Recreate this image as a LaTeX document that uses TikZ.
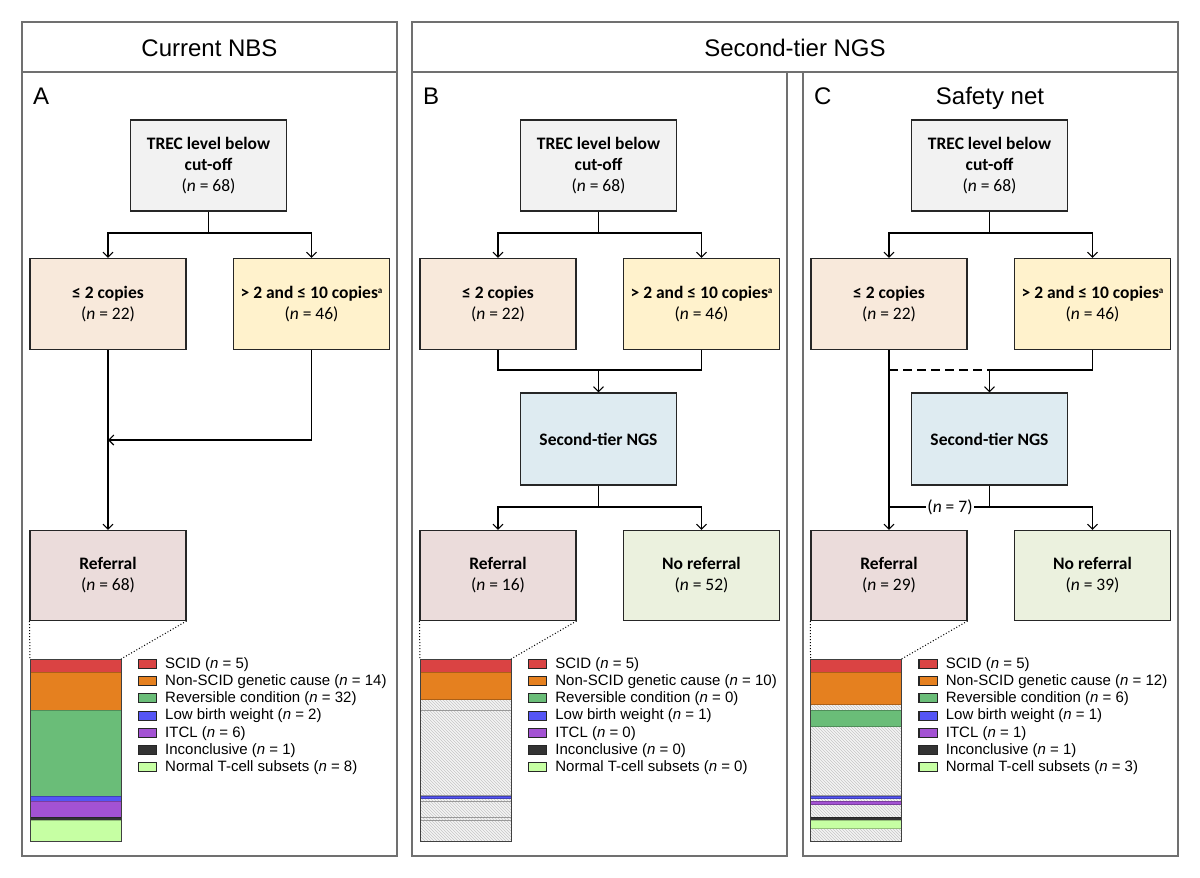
\documentclass[tikz,border=0pt]{standalone}
\usepackage{fontspec}
\setmainfont{Liberation Sans}
\newfontfamily\calfont{Carlito}
\usetikzlibrary{arrows.meta,patterns}
\definecolor{trecc}{HTML}{F2F2F2}
\definecolor{lowc}{HTML}{F8E9DB}
\definecolor{highc}{HTML}{FFF2CC}
\definecolor{ngsc}{HTML}{DEEBF1}
\definecolor{refc}{HTML}{EBDCDB}
\definecolor{norefc}{HTML}{EBF1DE}
\definecolor{scid}{HTML}{DA4343}
\definecolor{nonscid}{HTML}{E5801F}
\definecolor{rev}{HTML}{6ABD78}
\definecolor{lbw}{HTML}{5555F5}
\definecolor{itcl}{HTML}{A352D3}
\definecolor{inc}{HTML}{333333}
\definecolor{norm}{HTML}{C6FFA3}
\definecolor{panelc}{HTML}{707070}
\definecolor{hatchbg}{HTML}{F4F4F4}

\newcommand\mybar[2]{%
  \xdef\cury{659}%
  \foreach \tot/\rf/\col in {#2}{%
    \pgfmathsetmacro\ya{\cury}%
    \pgfmathsetmacro\yb{\cury+\rf*2.684}%
    \pgfmathsetmacro\yc{\cury+\tot*2.684}%
    \ifnum\tot>\rf
      \fill[hatchbg] (#1,\yb) rectangle ({#1+91},\yc);
      \fill[pattern=north west lines, pattern color=gray!45] (#1,\yb) rectangle ({#1+91},\yc);
      \draw[gray!80, line width=0.8pt] (#1,\yb) rectangle ({#1+91},\yc);
    \fi
    \ifnum\rf>0
      \filldraw[fill=\col, draw=\col!75!black, line width=0.6pt] (#1,\ya) rectangle ({#1+91},\yb);
    \fi
    \xdef\cury{\yc}%
  }%
  \draw[black!75, line width=1pt] (#1,659) rectangle ({#1+91},\cury);
}

\newcommand\mylegend[9]{%
  \foreach \i/\col/\lab/\n in {0/scid/SCID/#3, 1/nonscid/Non-SCID genetic cause/#4,
      2/rev/Reversible condition/#5, 3/lbw/Low birth weight/#6, 4/itcl/ITCL/#7,
      5/inc/Inconclusive/#8, 6/norm/Normal T-cell subsets/#9}{%
    \node[legsq, fill=\col] (#1sq\i) at ({#2+9.2},{664+\i*17.2}) {};
    \node[legtxt] (#1lt\i) at ({#2+26.7},{664.5+\i*17.2}) {\lab{} (\textit{n} = \n)};
  }%
}

\begin{document}
\begin{tikzpicture}[x=1pt,y=-1pt,
  panel/.style={draw=panelc, line width=1.2pt},
  hdr/.style={font=\fontsize{24}{28}\selectfont, inner sep=0pt},
  box/.style={draw=black!85, line width=1.1pt, minimum width=156pt, align=center,
     font=\calfont\fontsize{17.5}{21}\selectfont, inner sep=2pt},
  arr/.style={-{Straight Barb[length=5pt,width=10pt]}, line width=1.1pt},
  conn/.style={line width=1.1pt},
  legsq/.style={draw=black!85, line width=1.1pt, minimum width=18.4pt, minimum height=9pt, inner sep=0pt},
  legtxt/.style={anchor=west, inner sep=0pt, font=\fontsize{15}{17}\selectfont},
  dots/.style={dotted, line width=1pt}
]
\useasboundingbox (0,0) rectangle (1200,878);
\fill[white] (0,0) rectangle (1200,878);

% panels
\draw[panel] (22,22) rectangle (397,856);
\draw[panel] (22,72) -- (397,72);
\draw[panel] (412,22) rectangle (1178,72);
\draw[panel] (412,72) rectangle (787,856);
\draw[panel] (803,72) rectangle (1178,856);

\node[hdr, anchor=base] (hA) at (209.5,56) {Current NBS};
\node[hdr, anchor=base] (hBC) at (795,56) {Second-tier NGS};
\node[hdr, anchor=base west] (lbA) at (33,104.5) {A};
\node[hdr, anchor=base west] (lbB) at (423,104.5) {B};
\node[hdr, anchor=base west] (lbC) at (814,104.5) {C};
\node[hdr, anchor=base] (sn) at (990,104.5) {Safety net};

% ---------------- Panel A ----------------
\node[box, fill=trecc, minimum height=91pt] (tA) at (208.5,165.5) {\textbf{TREC level below}\\\textbf{cut-off}\\(\textit{n} = 68)};
\node[box, fill=lowc, minimum height=91pt] (lA) at (108,304) {\textbf{≤ 2 copies}\\(\textit{n} = 22)};
\node[box, fill=highc, minimum height=91pt] (uA) at (311.5,304) {\textbf{> 2 and ≤ 10 copies{\fontsize{9}{9}\selectfont\raisebox{5pt}{a}}}\\(\textit{n} = 46)};
\node[box, fill=refc, minimum height=90pt] (rA) at (108,575.5) {\textbf{Referral}\\(\textit{n} = 68)};

\coordinate (jA) at (208.5,233);
\coordinate (mA) at (108,440);
\draw[conn] (tA.south) -- (jA);
\draw[arr] (jA) -| (lA.north);
\draw[arr] (jA) -| (uA.north);
\draw[arr] (lA.south) -- (rA.north);
\draw[arr] (uA.south) |- (mA);

\mybar{30}{5/5/scid, 14/14/nonscid, 32/32/rev, 2/2/lbw, 6/6/itcl, 1/1/inc, 8/8/norm}
\coordinate (bAl) at (30,659);
\coordinate (bAr) at (121,659);
\draw[dots] (rA.south west) -- (bAl);
\draw[dots] (rA.south east) -- (bAr);
\mylegend{LA}{138.3}{5}{14}{32}{2}{6}{1}{8}

% ---------------- Panel B ----------------
\node[box, fill=trecc, minimum height=91pt] (tB) at (598.5,165.5) {\textbf{TREC level below}\\\textbf{cut-off}\\(\textit{n} = 68)};
\node[box, fill=lowc, minimum height=91pt] (lB) at (498,304) {\textbf{≤ 2 copies}\\(\textit{n} = 22)};
\node[box, fill=highc, minimum height=91pt] (uB) at (701.5,304) {\textbf{> 2 and ≤ 10 copies{\fontsize{9}{9}\selectfont\raisebox{5pt}{a}}}\\(\textit{n} = 46)};
\node[box, fill=ngsc, minimum height=92pt] (nB) at (598.5,439) {\textbf{Second-tier NGS}};
\node[box, fill=refc, minimum height=90pt] (rB) at (498,575.5) {\textbf{Referral}\\(\textit{n} = 16)};
\node[box, fill=norefc, minimum height=90pt] (qB) at (701.5,575.5) {\textbf{No referral}\\(\textit{n} = 52)};

\coordinate (jB) at (598.5,233);
\draw[conn] (tB.south) -- (jB);
\draw[arr] (jB) -| (lB.north);
\draw[arr] (jB) -| (uB.north);
\coordinate (kB) at (598.5,370);
\draw[conn] (lB.south) |- (kB);
\draw[conn] (uB.south) |- (kB);
\draw[arr] (kB) -- (nB.north);
\coordinate (oB) at (598.5,507);
\draw[conn] (nB.south) -- (oB);
\draw[arr] (oB) -| (rB.north);
\draw[arr] (oB) -| (qB.north);

\mybar{420}{5/5/scid, 14/10/nonscid, 32/0/rev, 2/1/lbw, 6/0/itcl, 1/0/inc, 8/0/norm}
\coordinate (bBl) at (420,659);
\coordinate (bBr) at (511,659);
\draw[dots] (rB.south west) -- (bBl);
\draw[dots] (rB.south east) -- (bBr);
\mylegend{LB}{528.5}{5}{10}{0}{1}{0}{0}{0}

% ---------------- Panel C ----------------
\node[box, fill=trecc, minimum height=91pt] (tC) at (989.5,165.5) {\textbf{TREC level below}\\\textbf{cut-off}\\(\textit{n} = 68)};
\node[box, fill=lowc, minimum height=91pt] (lC) at (889,304) {\textbf{≤ 2 copies}\\(\textit{n} = 22)};
\node[box, fill=highc, minimum height=91pt] (uC) at (1092.5,304) {\textbf{> 2 and ≤ 10 copies{\fontsize{9}{9}\selectfont\raisebox{5pt}{a}}}\\(\textit{n} = 46)};
\node[box, fill=ngsc, minimum height=92pt] (nC) at (989.5,439) {\textbf{Second-tier NGS}};
\node[box, fill=refc, minimum height=90pt] (rC) at (889,575.5) {\textbf{Referral}\\(\textit{n} = 29)};
\node[box, fill=norefc, minimum height=90pt] (qC) at (1092.5,575.5) {\textbf{No referral}\\(\textit{n} = 39)};

\coordinate (jC) at (989.5,233);
\draw[conn] (tC.south) -- (jC);
\draw[arr] (jC) -| (lC.north);
\draw[arr] (jC) -| (uC.north);
\coordinate (kC) at (989.5,370);
\coordinate (dC) at (889,370);
\draw[arr] (lC.south) -- (rC.north);
\draw[conn, dash pattern=on 9pt off 5pt] (dC) -- (kC);
\draw[conn] (uC.south) |- (kC);
\draw[arr] (kC) -- (nC.north);
\coordinate (oC) at (989.5,507);
\coordinate (pC) at (889,507);
\draw[conn] (nC.south) -- (oC);
\draw[conn] (pC) -- (oC);
\draw[arr] (oC) -| (qC.north);
\node[fill=white, inner sep=1pt, font=\calfont\fontsize{17.5}{20}\selectfont] (n7) at (950,507) {(\textit{n} = 7)};

\mybar{810.5}{5/5/scid, 14/12/nonscid, 32/6/rev, 2/1/lbw, 6/1/itcl, 1/1/inc, 8/3/norm}
\coordinate (bCl) at (810.5,659);
\coordinate (bCr) at (901.5,659);
\draw[dots] (rC.south west) -- (bCl);
\draw[dots] (rC.south east) -- (bCr);
\mylegend{LC}{919}{5}{12}{6}{1}{1}{1}{3}
\end{tikzpicture}
\end{document}
